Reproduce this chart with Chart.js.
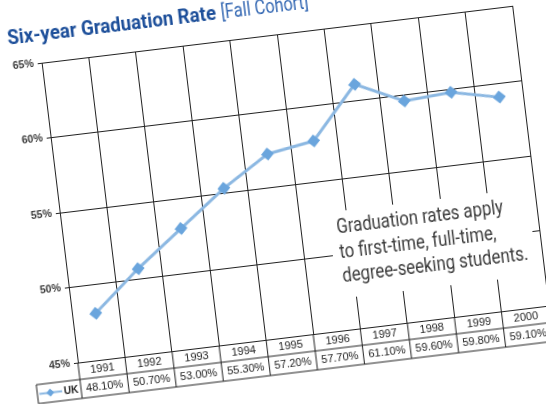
<!DOCTYPE html>
<html>
<head>
<meta charset="utf-8">
<script src="https://cdn.jsdelivr.net/npm/chart.js@4/dist/chart.umd.min.js"></script>
<style>
  html, body { margin: 0; padding: 0; background: #fff; overflow: hidden; }
  body { width: 546px; height: 404px; position: relative; }
  #wrap {
    position: absolute; left: -10px; top: -10px;
    width: 566px; height: 424px;
    transform: rotate(-6.9deg);
    transform-origin: 50% 50%;
  }
</style>
</head>
<body>
<div id="wrap"><canvas id="c"></canvas></div>
<script>
// Six-year graduation rate by fall cohort
const years = ['1991', '1992', '1993', '1994', '1995', '1996', '1997', '1998', '1999', '2000'];
const ukRates = [48.10, 50.70, 53.00, 55.30, 57.20, 57.70, 61.10, 59.60, 59.80, 59.10];
const seriesName = 'UK';
const yTicks = [45, 50, 55, 60, 65];
const titleMain = 'Six-year Graduation Rate';
const titleSub = '[Fall Cohort]';
const noteLines = ['Graduation rates apply', 'to first-time, full-time,', 'degree-seeking students.'];

const COND = "Roboto, 'Liberation Sans', sans-serif";
const SANS = "'Liberation Sans', Arial, Helvetica, sans-serif";
const LINE_COLOR = '#8cb8e2';
const POINT_COLOR = '#6aa5dd';
const GRID = '#222';

// Draws text squeezed horizontally to give a condensed face
function condensedText(ctx, text, x, y, sx) {
  ctx.save();
  ctx.translate(x, y);
  ctx.scale(sx, 1);
  ctx.fillText(text, 0, 0);
  ctx.restore();
  return ctx.measureText(text).width * sx;
}

// Title: bold main part followed by a lighter bracketed part
const titlePlugin = {
  id: 'twoPartTitle',
  afterDraw(chart) {
    const ctx = chart.ctx;
    ctx.save();
    ctx.textBaseline = 'middle';
    ctx.textAlign = 'left';
    const x0 = 39, y0 = 19;
    ctx.font = 'bold 21px ' + COND;
    const sx = 210 / ctx.measureText(titleMain).width;
    ctx.fillStyle = '#1d4f9a';
    const w = condensedText(ctx, titleMain, x0, y0, sx);
    ctx.font = '20px ' + COND;
    ctx.fillStyle = '#3468b3';
    const sx2 = 88 / ctx.measureText(titleSub).width;
    condensedText(ctx, titleSub, x0 + w + 5, y0, sx2);
    ctx.restore();
  }
};

// Note box sitting on top of the grid
const notePlugin = {
  id: 'noteBox',
  afterDraw(chart) {
    const a = chart.chartArea, ctx = chart.ctx;
    const bx = a.left + 266, by = a.top + 183, bw = 201, bh = 87;
    ctx.save();
    ctx.fillStyle = '#fff';
    ctx.fillRect(bx, by, bw, bh);
    ctx.font = '20px ' + COND;
    ctx.fillStyle = '#3c3c3c';
    ctx.textAlign = 'left';
    ctx.textBaseline = 'middle';
    const sx = 187 / ctx.measureText(noteLines[2]).width;
    noteLines.forEach((t, i) => condensedText(ctx, t, bx + 7, by + 17 + i * 24.7, sx));
    ctx.restore();
  }
};

// Data table under the x axis: years row and values row with legend cell
const tablePlugin = {
  id: 'dataTable',
  afterDraw(chart) {
    const a = chart.chartArea, ctx = chart.ctx, xs = chart.scales.x;
    const rowTop = a.bottom, rowMid = a.bottom + 17, rowBot = a.bottom + 36;
    const legLeft = a.left - 44;
    const n = years.length;
    const step = xs.getPixelForValue(1) - xs.getPixelForValue(0);
    const edges = [];
    for (let i = 0; i <= n; i++) edges.push(xs.getPixelForValue(0) - step / 2 + i * step);

    ctx.save();
    ctx.strokeStyle = GRID;
    ctx.lineWidth = 1;
    ctx.beginPath();
    // horizontal rules
    ctx.moveTo(a.left, rowMid); ctx.lineTo(a.right, rowMid);
    ctx.moveTo(legLeft, rowMid); ctx.lineTo(a.left, rowMid);
    ctx.moveTo(legLeft, rowBot); ctx.lineTo(a.right, rowBot);
    // vertical rules
    edges.forEach(x => { ctx.moveTo(x, rowTop); ctx.lineTo(x, rowBot); });
    ctx.moveTo(legLeft, rowMid); ctx.lineTo(legLeft, rowBot);
    ctx.stroke();

    ctx.fillStyle = '#222';
    ctx.textAlign = 'center';
    ctx.textBaseline = 'middle';
    ctx.font = '11px ' + SANS;
    years.forEach((y, i) => {
      const cx = xs.getPixelForValue(i);
      ctx.fillText(y, cx, (rowTop + rowMid) / 2 + 0.5);
      ctx.fillText(ukRates[i].toFixed(2) + '%', cx, (rowMid + rowBot) / 2 + 0.5);
    });

    // legend sample
    const ly = (rowMid + rowBot) / 2;
    ctx.strokeStyle = LINE_COLOR;
    ctx.lineWidth = 2;
    ctx.beginPath();
    ctx.moveTo(legLeft + 2, ly); ctx.lineTo(legLeft + 25, ly);
    ctx.stroke();
    ctx.fillStyle = POINT_COLOR;
    ctx.beginPath();
    const dx = legLeft + 13, r = 4;
    ctx.moveTo(dx, ly - r); ctx.lineTo(dx + r, ly); ctx.lineTo(dx, ly + r); ctx.lineTo(dx - r, ly);
    ctx.closePath(); ctx.fill();
    ctx.fillStyle = '#222';
    ctx.font = 'bold 10px ' + SANS;
    ctx.fillText(seriesName, legLeft + 34, ly + 0.5);
    ctx.restore();
  }
};

new Chart(document.getElementById('c'), {
  type: 'line',
  data: {
    labels: years,
    datasets: [{
      label: seriesName,
      data: ukRates,
      borderColor: LINE_COLOR,
      borderWidth: 3,
      pointStyle: 'rectRot',
      pointRadius: 6.5,
      pointBackgroundColor: POINT_COLOR,
      pointBorderWidth: 0,
      tension: 0
    }]
  },
  options: {
    responsive: true,
    maintainAspectRatio: false,
    animation: false,
    layout: { padding: { left: 0, top: 46, right: 22, bottom: 76 } },
    plugins: {
      legend: { display: false },
      tooltip: { enabled: false },
      title: { display: false }
    },
    scales: {
      x: {
        type: 'category',
        offset: true,
        grid: { offset: true, color: GRID, lineWidth: 1, drawTicks: false },
        border: { color: GRID },
        ticks: { display: false },
        afterFit(s) { s.height = 0; }
      },
      y: {
        min: yTicks[0],
        max: yTicks[yTicks.length - 1],
        afterBuildTicks(s) { s.ticks = yTicks.map(v => ({ value: v })); },
        ticks: {
          callback: v => v + '%',
          font: { family: SANS, size: 10.5, weight: 'bold' },
          color: '#3a3a3a',
          padding: 4
        },
        grid: { color: GRID, lineWidth: 1, tickLength: 4 },
        border: { color: GRID },
        afterFit(s) { s.width = 70; }
      }
    }
  },
  plugins: [titlePlugin, notePlugin, tablePlugin]
});
</script>
</body>
</html>
